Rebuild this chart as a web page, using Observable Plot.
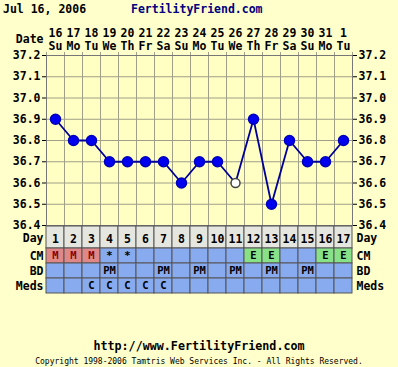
<!DOCTYPE html>
<html><head><meta charset="utf-8">
<script src="https://cdn.jsdelivr.net/npm/d3@7"></script>
<script src="https://cdn.jsdelivr.net/npm/@observablehq/plot@0.6"></script>
<style>
html,body{margin:0;padding:0;background:#FFFFCC;}
#wrap{position:relative;width:398px;height:367px;background:#FFFFCC;font-family:"DejaVu Sans Mono",monospace;font-weight:bold;overflow:hidden;color:#000}
.abs{position:absolute;white-space:nowrap;line-height:1}
#main{position:absolute;left:0;top:0}
#table{position:absolute;left:0;top:226px}
</style></head><body>
<div id="wrap">
  <div class="abs" style="left:3px;top:4px;font-size:11.5px">Jul 16, 2006</div>
  <div class="abs" style="left:131px;top:4px;font-size:11.5px;color:#000080">FertilityFriend.com</div>
  <div id="main"></div>
  <div id="table"></div>
  <div class="abs" style="left:0;width:398px;text-align:center;top:341px;font-size:11.7px">http://www.FertilityFriend.com</div>
  <div class="abs" style="left:0;width:398px;text-align:center;top:358px;font-size:8px;font-weight:normal">Copyright 1998-2006 Tamtris Web Services Inc. - All Rights Reserved.</div>
</div>
<script>
const days = [1,2,3,4,5,6,7,8,9,10,11,12,13,14,15,16,17];
const dates = ["16","17","18","19","20","21","22","23","24","25","26","27","28","29","30","31","1"];
const weekdays = ["Su","Mo","Tu","We","Th","Fr","Sa","Su","Mo","Tu","We","Th","Fr","Sa","Su","Mo","Tu"];
const temps = [36.9,36.8,36.8,36.7,36.7,36.7,36.7,36.6,36.7,36.7,36.6,36.9,36.5,36.8,36.7,36.7,36.8];
const openPoint = [false,false,false,false,false,false,false,false,false,false,true,false,false,false,false,false,false];
const cm = ["M","M","M","*","*","","","","","","","E","E","","","E","E"];
const bd = ["","","","PM","","","PM","","PM","","PM","","PM","","PM","",""];
const meds = ["","","C","C","C","C","C","","","","","","","","","",""];
const yTicks = [36.4,36.5,36.6,36.7,36.8,36.9,37.0,37.1,37.2];
const rowNames = ["Day","CM","BD","Meds"];

const FONT = "DejaVu Sans Mono, monospace";
const GRID = "#A0A088";

const temp = days.map((d,i)=>({day:d, date:dates[i], wd:weekdays[i], t:temps[i], open:openPoint[i]}));

const main = Plot.plot({
  width:398, height:228, marginLeft:46, marginRight:46, marginTop:55, marginBottom:3,
  style:{background:"transparent", fontFamily:FONT, fontWeight:"bold", fontSize:"11.5px", color:"#000", overflow:"visible"},
  x:{type:"band", domain:days, padding:0, axis:null},
  y:{domain:[36.4,37.2], ticks:yTicks, tickFormat:".1f", axis:"both", tickSize:4, tickPadding:2, label:null},
  marks:[
    Plot.frame({fill:"#FFFFC4"}),
    Plot.ruleY(yTicks, {stroke:GRID}),
    Plot.ruleX(days, {x:d=>d, dx:-9, stroke:GRID, insetTop:-3}),
    Plot.ruleX([17], {x:d=>d, dx:9, stroke:GRID, insetTop:-3}),
    Plot.frame({stroke:"#777"}),
    Plot.text(temp, {x:"day", text:"date", frameAnchor:"top", lineAnchor:"middle", dy:-22}),
    Plot.text(temp, {x:"day", text:"wd", frameAnchor:"top", lineAnchor:"middle", dy:-9}),
    Plot.text(["Date"], {frameAnchor:"top-left", lineAnchor:"middle", textAnchor:"end", dx:-3, dy:-16, fontSize:11.5}),
    Plot.line(temp, {x:"day", y:"t", stroke:"#000099", strokeWidth:1.8}),
    Plot.dot(temp.filter(d=>!d.open), {x:"day", y:"t", r:5, fill:"#0000EE", stroke:"#0000BB"}),
    Plot.dot(temp.filter(d=>d.open), {x:"day", y:"t", r:4.5, fill:"#FFFFFF", stroke:"#444"})
  ]
});
document.getElementById("main").append(main);

// table layout (row bands, in pixels within the table svg)
const rowLayout = {Day:[0,22], CM:[22,37], BD:[37,52], Meds:[52,67]};
const rowVals = {Day:days.map(String), CM:cm, BD:bd, Meds:meds};
const cells = [];
for (const r of rowNames) {
  days.forEach((d,i)=>{
    const v = rowVals[r][i];
    let fill = "#88AAEE";
    if (r==="Day") fill = "#E6E6E0";
    else if (r==="CM" && v==="M") fill = "#E08888";
    else if (r==="CM" && v==="E") fill = "#88E088";
    cells.push({row:r, day:d, v, fill, y1:rowLayout[r][0], y2:rowLayout[r][1],
      mid:(rowLayout[r][0]+rowLayout[r][1])/2, color: v==="M" ? "#880000" : "#000000"});
  });
}
const rows = rowNames.map(r=>({name:r, mid:(rowLayout[r][0]+rowLayout[r][1])/2 + (r==="Day"?1:0)}));

const table = Plot.plot({
  width:398, height:68, marginLeft:46, marginRight:46, marginTop:0, marginBottom:0,
  style:{background:"transparent", fontFamily:FONT, fontWeight:"bold", fontSize:"11px", color:"#000", overflow:"visible"},
  x:{type:"band", domain:days, padding:0, axis:null},
  y:{domain:[0,68], range:[0,68], axis:null},
  color:{type:"identity"},
  marks:[
    Plot.barY(cells, {x:"day", y1:"y1", y2:"y2", fill:"fill", stroke:"#555", strokeWidth:1}),
    Plot.text(cells.filter(d=>d.row==="Day"), {x:"day", y:"mid", text:"v", fontSize:11.5, dy:2}),
    Plot.text(cells.filter(d=>d.row!=="Day" && d.v), {x:"day", y:"mid", text:"v", fill:"color", fontSize:10.5}),
    Plot.text(rows, {frameAnchor:"left", y:"mid", text:"name", textAnchor:"end", dx:-3, fontSize:11.5}),
    Plot.text(rows, {frameAnchor:"right", y:"mid", text:"name", textAnchor:"start", dx:4, fontSize:11.5})
  ]
});
document.getElementById("table").append(table);
</script>
</body></html>
